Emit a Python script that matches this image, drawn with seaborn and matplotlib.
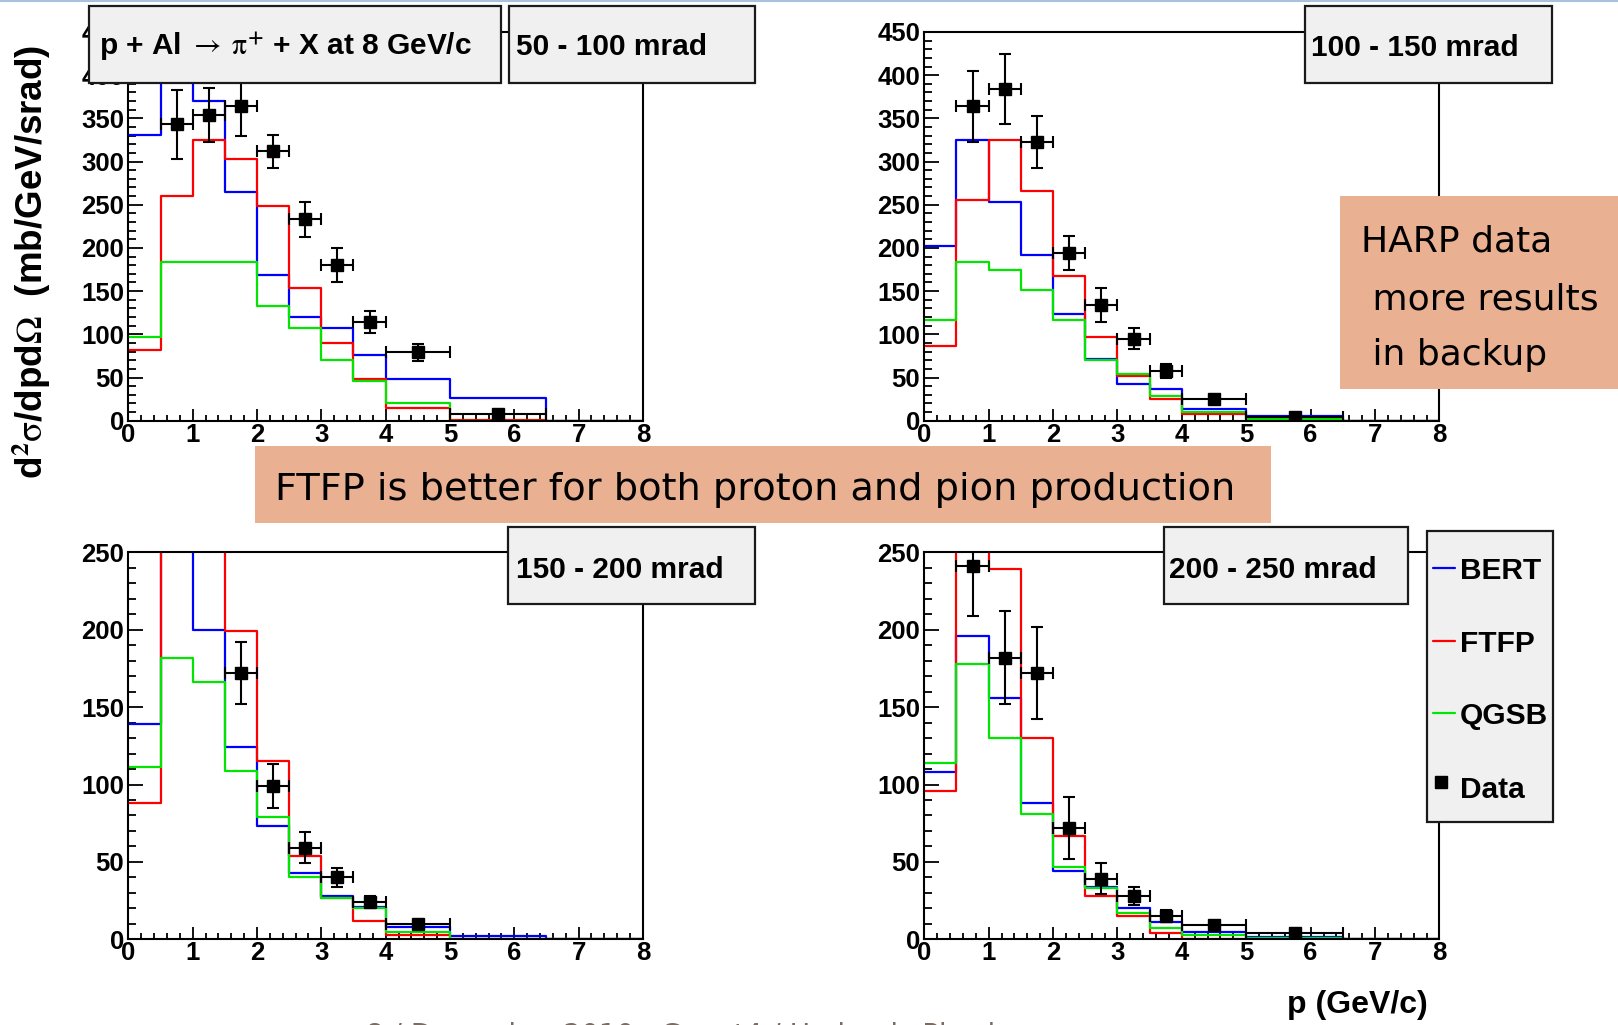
import numpy as np
import pandas as pd
import matplotlib
matplotlib.use("Agg")
import matplotlib.pyplot as plt
from matplotlib.patches import Rectangle
from matplotlib.lines import Line2D
from matplotlib.ticker import MultipleLocator
import seaborn as sns

# ---- binning (GeV/c) ----
edges = [0, 0.5, 1, 1.5, 2, 2.5, 3, 3.5, 4, 5, 6.5, 8]

nan = np.nan
# ---- 50 - 100 mrad ----
bert_50 = [331, 480, 370, 265, 169, 120, 107, 76, 48, 26, 0]
ftfp_50 = [82, 260, 325, 303, 248, 154, 90, 48, 15, 1, 0]
qgsb_50 = [97, 184, 184, 184, 133, 107, 70, 46, 20, 0, 0]
data_50 = [nan, 343, 354, 364, 312, 233, 180, 114, 79, 8, nan]
err_50 = [nan, 40, 31, 34, 19, 20, 20, 13, 10, 2, nan]

# ---- 100 - 150 mrad ----
bert_100 = [202, 325, 253, 192, 124, 72, 43, 37, 13, 5, 0]
ftfp_100 = [87, 256, 325, 266, 167, 97, 52, 25, 8, 2, 0]
qgsb_100 = [117, 184, 174, 151, 117, 70, 54, 29, 10, 2, 0]
data_100 = [nan, 364, 384, 323, 194, 134, 95, 58, 25, 4, nan]
err_100 = [nan, 41, 41, 30, 20, 20, 12, 8, 3, 1, nan]

# ---- 150 - 200 mrad ----
bert_150 = [139, 300, 200, 124, 73, 43, 28, 21, 8, 2, 0]
ftfp_150 = [88, 300, 300, 199, 115, 54, 27, 12, 3, 0.5, 0]
qgsb_150 = [111, 182, 166, 109, 79, 40, 27, 20, 5, 0.4, 0]
data_150 = [nan, nan, nan, 172, 99, 59, 40, 24, 10, nan, nan]
err_150 = [nan, nan, nan, 20, 14, 10, 6, 4, 2, nan, nan]

# ---- 200 - 250 mrad ----
bert_200 = [108, 196, 156, 88, 44, 34, 20, 11, 4.5, 1.7, 0]
ftfp_200 = [96, 300, 239, 130, 67, 28, 15, 4, 0.5, 0, 0]
qgsb_200 = [114, 178, 130, 81, 47, 33, 17, 7, 2.6, 0.6, 0]
data_200 = [nan, 241, 182, 172, 72, 39, 28, 15, 9, 4, nan]
err_200 = [nan, 32, 30, 30, 20, 10, 6, 4, 2, 1, nan]

panels = [
    ("50 - 100 mrad", bert_50, ftfp_50, qgsb_50, data_50, err_50, 450),
    ("100 - 150 mrad", bert_100, ftfp_100, qgsb_100, data_100, err_100, 450),
    ("150 - 200 mrad", bert_150, ftfp_150, qgsb_150, data_150, err_150, 250),
    ("200 - 250 mrad", bert_200, ftfp_200, qgsb_200, data_200, err_200, 250),
]
model_names = ["BERT", "FTFP", "QGSB"]
model_colors = ["#0000ff", "#ff0000", "#00e600"]

title_text = r"p + Al $\rightarrow\;\mathrm{\pi}^{\mathbf{+}}$ + X at 8 GeV/c"
ylabel_text = r"d$^{\mathbf{2}}\mathrm{\sigma}$/dpd$\mathrm{\Omega}$  (mb/GeV/srad)"
xlabel_text = "p (GeV/c)"
note_main = "FTFP is better for both proton and pion production"
note_side = ["HARP data", " more results", " in backup"]
footer_text = "8 / December 2010   Geant4 / Hadronic Physics"

# ---- style ----
sns.set_theme(style="white")
plt.rcParams["font.family"] = ["Liberation Sans", "DejaVu Sans"]
plt.rcParams["mathtext.fontset"] = "stix"
plt.rcParams["text.color"] = "black"
plt.rcParams["xtick.labelcolor"] = "black"
plt.rcParams["ytick.labelcolor"] = "black"

W, H = 1618, 1025
fig = plt.figure(figsize=(W / 100, H / 100), dpi=100)
fig.patch.set_facecolor("white")


def fx(px):
    return px / W


def fy(py):
    return 1 - py / H


# axes frames in pixel coordinates: (left, top, right, bottom)
frames = [
    (128.4, 32.0, 642.9, 420.7),
    (924.3, 32.0, 1439.4, 420.7),
    (128.4, 552.3, 642.9, 939.3),
    (924.3, 552.3, 1439.4, 939.3),
]

bin_edges = np.array(edges, dtype=float)
bin_centers = (bin_edges[:-1] + bin_edges[1:]) / 2
bin_half = (bin_edges[1:] - bin_edges[:-1]) / 2

axes = []
for (l, t, r, b), (label, bert, ftfp, qgsb, data, err, ymax) in zip(frames, panels):
    ax = fig.add_axes([fx(l), fy(b), (r - l) / W, (b - t) / H])
    axes.append(ax)
    for vals, col in zip([bert, ftfp, qgsb], model_colors):
        hist_df = pd.DataFrame({"p": bin_centers, "xsec": vals})
        sns.histplot(data=hist_df, x="p", weights="xsec", bins=list(edges),
                     element="step", fill=False, color=col, linewidth=1.6, ax=ax)
    d = np.array(data, dtype=float)
    e = np.array(err, dtype=float)
    m = ~np.isnan(d)
    ax.errorbar(bin_centers[m], d[m], yerr=e[m], xerr=bin_half[m], fmt="s",
                color="black", ms=8.5, elinewidth=1.5, capsize=4, capthick=1.5,
                zorder=6)
    ax.set_xlim(0, 8)
    ax.set_ylim(0, ymax)
    ax.set_xlabel("")
    ax.set_ylabel("")
    ax.xaxis.set_major_locator(MultipleLocator(1))
    ax.xaxis.set_minor_locator(MultipleLocator(0.2))
    ax.yaxis.set_major_locator(MultipleLocator(50))
    ax.yaxis.set_minor_locator(MultipleLocator(10))
    ax.tick_params(axis="both", which="both", direction="in", top=False, right=False,
                   bottom=True, left=True, color="black", width=1.3)
    ax.tick_params(axis="y", which="major", length=11, pad=3, labelsize=18.5)
    ax.tick_params(axis="y", which="minor", length=5.5)
    ax.tick_params(axis="x", which="major", length=8.5, pad=1.5, labelsize=18.5)
    ax.tick_params(axis="x", which="minor", length=4.2)
    for lab in ax.get_xticklabels() + ax.get_yticklabels():
        lab.set_fontweight("bold")
        lab.set_color("black")
    for sp in ax.spines.values():
        sp.set_visible(True)
        sp.set_color("black")
        sp.set_linewidth(1.5)
    ax.set_facecolor("white")
    ax.grid(False)


def pave(x0, y0, x1, y1, z=5):
    rect = Rectangle((fx(x0), fy(y1)), (x1 - x0) / W, (y1 - y0) / H,
                     transform=fig.transFigure, facecolor="#f0f0f0",
                     edgecolor="#1a1a1a", linewidth=1.6, zorder=z)
    fig.add_artist(rect)


# title and angle boxes
pave(89, 6, 501, 83)
fig.text(fx(99), fy(55), title_text, fontsize=21.5, fontweight="bold",
         va="baseline", ha="left", zorder=7)
box_specs = [
    ((509, 6, 755, 83), (516, 55)),
    ((1305, 6, 1552, 83), (1311, 56)),
    ((508, 527, 755, 604), (516, 578)),
    ((1164, 527, 1408, 604), (1169, 578)),
]
for (bx, (tx, ty)), p in zip(box_specs, panels):
    pave(*bx)
    fig.text(fx(tx), fy(ty), p[0], fontsize=21.5, fontweight="bold",
             va="baseline", ha="left", zorder=7)

# legend box
pave(1427, 531, 1553, 822)
leg_rows = [568, 641, 713, 787]
for name, col, yc in zip(model_names, model_colors, leg_rows[:3]):
    fig.add_artist(Line2D([fx(1433), fx(1455)], [fy(yc), fy(yc)], color=col,
                          lw=1.6, transform=fig.transFigure, zorder=7))
    fig.text(fx(1460), fy(yc + 10.7), name, fontsize=21.5, fontweight="bold",
             va="baseline", ha="left", zorder=7)
fig.add_artist(Line2D([fx(1441)], [fy(782)], marker="s", ms=8, color="black",
                      ls="none", transform=fig.transFigure, zorder=7))
fig.text(fx(1460), fy(leg_rows[3] + 10.7), "Data", fontsize=21.5, fontweight="bold",
         va="baseline", ha="left", zorder=7)

# axis titles
fig.text(fx(31), fy(262), ylabel_text, rotation=90, fontsize=26.5,
         fontweight="bold", ha="center", va="center")
fig.text(fx(1428), fy(1013), xlabel_text, fontsize=23, fontweight="bold",
         ha="right", va="baseline")

# highlighted notes
orange = "#eab092"
fig.add_artist(Rectangle((fx(255), fy(523)), (1271 - 255) / W, (523 - 446) / H,
                         transform=fig.transFigure, facecolor=orange,
                         edgecolor="none", zorder=8))
fig.text(fx(275), fy(500), note_main, fontsize=27.5, family=["DejaVu Sans"],
         va="baseline", ha="left", zorder=9)
fig.add_artist(Rectangle((fx(1340), fy(389)), (W - 1340) / W, (389 - 196) / H,
                         transform=fig.transFigure, facecolor=orange,
                         edgecolor="none", zorder=8))
for line, base in zip(note_side, [251, 309, 365]):
    fig.text(fx(1361), fy(base), line, fontsize=26, family=["DejaVu Sans"],
             va="baseline", ha="left", zorder=9)

# slide header rule and footer
fig.add_artist(Line2D([0, 1], [fy(1), fy(1)], color="#a9c2dc", lw=1.5,
                      transform=fig.transFigure))
fig.text(fx(366), fy(1022.5), footer_text, fontsize=20, color="#7b6b61",
         family=["DejaVu Sans"], va="top", ha="left")

fig.savefig("out.png", dpi=100)
